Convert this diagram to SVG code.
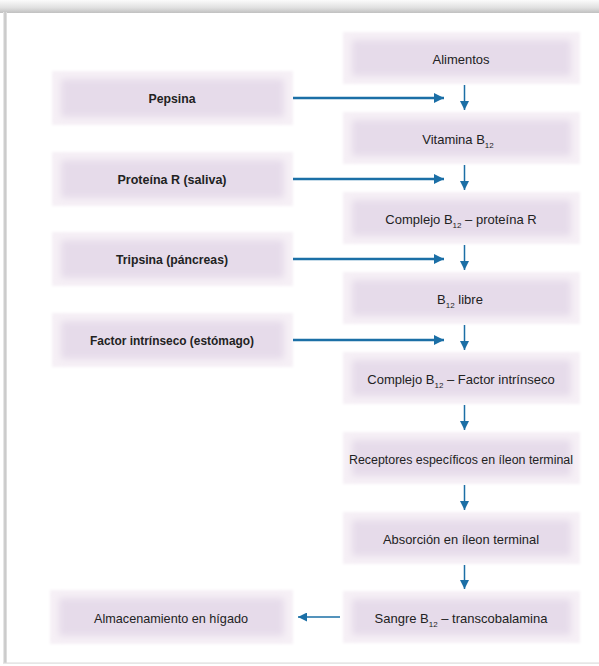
<svg xmlns="http://www.w3.org/2000/svg" width="599" height="666" viewBox="0 0 599 666">
<defs>
<linearGradient id="topShade" x1="0" y1="0" x2="0" y2="1">
<stop offset="0" stop-color="#fbfbfb"/>
<stop offset="0.6" stop-color="#e0e0e0"/>
<stop offset="1" stop-color="#c0c0c0"/>
</linearGradient>
<linearGradient id="leftShade" x1="0" y1="0" x2="1" y2="0">
<stop offset="0" stop-color="#f2f2f2"/>
<stop offset="0.5" stop-color="#c2c2c2"/>
<stop offset="1" stop-color="#e6e6e6"/>
</linearGradient>
<filter id="soft" x="-10%" y="-30%" width="120%" height="160%">
<feGaussianBlur stdDeviation="3.5"/>
</filter>
<filter id="softOuter" x="-10%" y="-30%" width="120%" height="160%">
<feGaussianBlur stdDeviation="1.5"/>
</filter>
<marker id="headH" viewBox="0 0 10 10" refX="10" refY="5" markerWidth="4" markerHeight="4" orient="auto" markerUnits="strokeWidth">
<path d="M0,0 L10,5 L0,10 Z" fill="#1b6fa6"/>
</marker>
<marker id="headV" viewBox="0 0 10 10" refX="10" refY="5" markerWidth="6" markerHeight="6" orient="auto" markerUnits="strokeWidth">
<path d="M0,0 L10,5 L0,10 Z" fill="#1b6fa6"/>
</marker>
</defs>
<style>
.outer{fill:#f6f0f6;filter:url(#softOuter)}
.inner{fill:#e6dbea;filter:url(#soft)}
.t{font-family:"Liberation Sans",Arial,sans-serif;font-size:13px;fill:#222222;text-anchor:middle}
.b{font-weight:bold;font-size:13px}
.sub{font-size:8px}
.ah{stroke:#1b6fa6;stroke-width:2.5;fill:none;marker-end:url(#headH)}
.av{stroke:#1b6fa6;stroke-width:1.5;fill:none;marker-end:url(#headV)}
</style>
<rect width="599" height="666" fill="#ffffff"/>
<rect x="0" y="0" width="599" height="13" fill="url(#topShade)"/>
<rect x="3" y="12" width="4" height="651" fill="url(#leftShade)"/>
<rect x="3" y="662.5" width="596" height="1.2" fill="#dcdcdc"/>

<g id="alimentos"><rect class="outer" x="343" y="32" width="237" height="52"/><rect class="inner" x="352" y="40" width="219" height="36"/><text class="t" x="461" y="64" textLength="57" lengthAdjust="spacingAndGlyphs">Alimentos</text></g>
<g id="vitamina"><rect class="outer" x="343" y="112" width="237" height="52"/><rect class="inner" x="352" y="120" width="219" height="36"/><text class="t" x="458" y="144">Vitamina B<tspan class="sub" dy="4">12</tspan></text></g>
<g id="complejo-r"><rect class="outer" x="343" y="192" width="237" height="52"/><rect class="inner" x="352" y="200" width="219" height="36"/><text class="t" x="461" y="224">Complejo B<tspan class="sub" dy="4">12</tspan><tspan dy="-4"> – proteína R</tspan></text></g>
<g id="libre"><rect class="outer" x="343" y="272" width="237" height="52"/><rect class="inner" x="352" y="280" width="219" height="36"/><text class="t" x="460" y="304">B<tspan class="sub" dy="4">12</tspan><tspan dy="-4"> libre</tspan></text></g>
<g id="complejo-fi"><rect class="outer" x="343" y="352" width="237" height="52"/><rect class="inner" x="352" y="360" width="219" height="36"/><text class="t" x="461" y="384">Complejo B<tspan class="sub" dy="4">12</tspan><tspan dy="-4"> – Factor intrínseco</tspan></text></g>
<g id="receptores"><rect class="outer" x="343" y="432" width="237" height="52"/><rect class="inner" x="352" y="440" width="219" height="36"/><text class="t" x="461" y="464" style="font-size:12px" textLength="224" lengthAdjust="spacingAndGlyphs">Receptores específicos en íleon terminal</text></g>
<g id="absorcion"><rect class="outer" x="343" y="512" width="237" height="52"/><rect class="inner" x="352" y="520" width="219" height="36"/><text class="t" x="461" y="544" textLength="156" lengthAdjust="spacingAndGlyphs">Absorción en íleon terminal</text></g>
<g id="sangre"><rect class="outer" x="343" y="591" width="237" height="52"/><rect class="inner" x="352" y="599" width="219" height="36"/><text class="t" x="461" y="623">Sangre B<tspan class="sub" dy="4">12</tspan><tspan dy="-4"> – transcobalamina</tspan></text></g>

<g id="pepsina"><rect class="outer" x="52" y="71" width="241" height="54"/><rect class="inner" x="61" y="79" width="223" height="38"/><text class="t b" x="172" y="103" textLength="47" lengthAdjust="spacingAndGlyphs">Pepsina</text></g>
<g id="proteina-r"><rect class="outer" x="52" y="152" width="241" height="54"/><rect class="inner" x="61" y="160" width="223" height="38"/><text class="t b" x="172" y="184" textLength="109" lengthAdjust="spacingAndGlyphs">Proteína R (saliva)</text></g>
<g id="tripsina"><rect class="outer" x="52" y="232" width="241" height="54"/><rect class="inner" x="61" y="240" width="223" height="38"/><text class="t b" x="172" y="264" textLength="112" lengthAdjust="spacingAndGlyphs">Tripsina (páncreas)</text></g>
<g id="factor"><rect class="outer" x="52" y="313" width="241" height="54"/><rect class="inner" x="61" y="321" width="223" height="38"/><text class="t b" x="172" y="345" textLength="164" lengthAdjust="spacingAndGlyphs">Factor intrínseco (estómago)</text></g>
<g id="almacenamiento"><rect class="outer" x="50" y="590" width="243" height="54"/><rect class="inner" x="59" y="598" width="225" height="38"/><text class="t" x="171" y="623" textLength="154" lengthAdjust="spacingAndGlyphs">Almacenamiento en hígado</text></g>

<g id="connectors">
<line class="ah" x1="293" y1="98" x2="444" y2="98"/>
<line class="ah" x1="293" y1="179" x2="444" y2="179"/>
<line class="ah" x1="293" y1="259" x2="444" y2="259"/>
<line class="ah" x1="293" y1="340" x2="444" y2="340"/>
<line class="av" x1="464.5" y1="85" x2="464.5" y2="110"/>
<line class="av" x1="464.5" y1="165" x2="464.5" y2="190"/>
<line class="av" x1="464.5" y1="245" x2="464.5" y2="270"/>
<line class="av" x1="464.5" y1="325" x2="464.5" y2="350"/>
<line class="av" x1="464.5" y1="405" x2="464.5" y2="430"/>
<line class="av" x1="464.5" y1="485" x2="464.5" y2="510"/>
<line class="av" x1="464.5" y1="565" x2="464.5" y2="589"/>
<line class="av" x1="340" y1="617" x2="298" y2="617"/>
</g>
</svg>
